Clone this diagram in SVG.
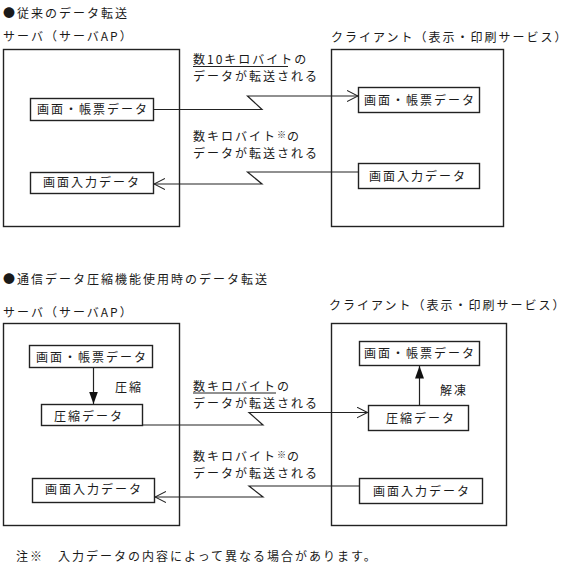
<svg xmlns="http://www.w3.org/2000/svg" width="576" height="568" viewBox="0 0 576 568">
<style>
text{font-family:"Noto Sans CJK JP","Noto Sans CJK SC",sans-serif;font-size:12px;letter-spacing:2px;fill:#1a1a1a}
.c{text-anchor:middle}
.big{fill:#fff;stroke:#222;stroke-width:1.4}
.box{fill:#fff;stroke:#222;stroke-width:1.4}
.ln{fill:none;stroke:#222;stroke-width:1.2}
.ul{stroke:#222;stroke-width:1}
.sup{font-size:9px;letter-spacing:1px}
</style>
<defs>
<marker id="open" viewBox="0 0 12 12" refX="11" refY="6" markerWidth="12" markerHeight="12" markerUnits="userSpaceOnUse" orient="auto">
<path d="M0,0.5 L11,6 L0,11.5" fill="none" stroke="#222" stroke-width="1.1"/>
</marker>
<marker id="solid" viewBox="0 0 13 10" refX="12.5" refY="5" markerWidth="13" markerHeight="10" markerUnits="userSpaceOnUse" orient="auto">
<path d="M0,0.5 L12.5,5 L0,9.5 Z" fill="#111"/>
</marker>
</defs>

<rect width="576" height="568" fill="#fff"/>

<!-- Section 1 -->
<text x="3" y="18">●従来のデータ転送</text>

<g id="server1">
<text x="3" y="41">サーバ（サーバAP）</text>
<rect class="big" x="3.5" y="49.5" width="176" height="177"/>
</g>
<g id="client1">
<text x="331" y="42">クライアント（表示・印刷サービス）</text>
<rect class="big" x="331.5" y="49.5" width="172" height="177"/>
</g>
<g id="s1-form">
<rect class="box" x="30.5" y="98.5" width="123" height="22"/>
<text class="c" x="93" y="114">画面・帳票データ</text>
</g>
<g id="s1-input">
<rect class="box" x="30.5" y="172.5" width="123" height="21"/>
<text class="c" x="92" y="187">画面入力データ</text>
</g>
<g id="c1-form">
<rect class="box" x="358.5" y="87.5" width="121" height="25"/>
<text class="c" x="420" y="105">画面・帳票データ</text>
</g>
<g id="c1-input">
<rect class="box" x="358.5" y="163.5" width="121" height="25"/>
<text class="c" x="418" y="181">画面入力データ</text>
</g>

<g id="labels1">
<text x="193" y="64">数10キロバイトの<tspan x="193" y="81">データが転送される</tspan></text>
<line class="ul" x1="193" y1="66.5" x2="288" y2="66.5"/>
<text x="193" y="141">数キロバイト<tspan class="sup" dy="-3">※</tspan><tspan dy="3">の</tspan><tspan x="193" y="158">データが転送される</tspan></text>
</g>

<g id="connectors1">
<path class="ln" d="M153.5,109.5 H262 L247.5,96 H358" marker-end="url(#open)"/>
<path class="ln" d="M358.5,172 H247.5 L262,184 H154" marker-end="url(#open)"/>
</g>

<!-- Section 2 -->
<text x="3" y="284">●通信データ圧縮機能使用時のデータ転送</text>

<g id="server2">
<text x="3" y="317">サーバ（サーバAP）</text>
<rect class="big" x="3.5" y="323.5" width="176" height="202"/>
</g>
<g id="client2">
<text x="329" y="310">クライアント（表示・印刷サービス）</text>
<rect class="big" x="331.5" y="323.5" width="175" height="202"/>
</g>
<g id="s2-form">
<rect class="box" x="29.5" y="345.5" width="123" height="22"/>
<text class="c" x="92" y="362">画面・帳票データ</text>
</g>
<g id="s2-comp">
<rect class="box" x="41.5" y="404.5" width="101" height="21"/>
<text class="c" x="89" y="421">圧縮データ</text>
</g>
<g id="s2-input">
<rect class="box" x="32.5" y="478.5" width="122" height="24"/>
<text class="c" x="94" y="494">画面入力データ</text>
</g>
<g id="c2-form">
<rect class="box" x="359.5" y="341.5" width="120" height="24"/>
<text class="c" x="420" y="358">画面・帳票データ</text>
</g>
<g id="c2-comp">
<rect class="box" x="368.5" y="405.5" width="100" height="25"/>
<text class="c" x="421" y="423">圧縮データ</text>
</g>
<g id="c2-input">
<rect class="box" x="359.5" y="478.5" width="123" height="25"/>
<text class="c" x="422" y="496">画面入力データ</text>
</g>

<g id="labels2">
<text x="115" y="392">圧縮</text>
<text x="440" y="395">解凍</text>
<text x="193" y="391">数キロバイトの<tspan x="193" y="408">データが転送される</tspan></text>
<line class="ul" x1="193" y1="393" x2="276" y2="393"/>
<text x="193" y="461">数キロバイト<tspan class="sup" dy="-3">※</tspan><tspan dy="3">の</tspan><tspan x="193" y="478">データが転送される</tspan></text>
</g>

<g id="connectors2">
<path class="ln" d="M93.5,367.5 V404" marker-end="url(#solid)"/>
<path class="ln" d="M419.5,405.5 V366" marker-end="url(#solid)"/>
<path class="ln" d="M142.5,425 H263 L249,412.5 H367.5" marker-end="url(#open)"/>
<path class="ln" d="M359.5,486 H249 L263,497 H155" marker-end="url(#open)"/>
</g>

<text x="16" y="561">注※　入力データの内容によって異なる場合があります。</text>
</svg>
